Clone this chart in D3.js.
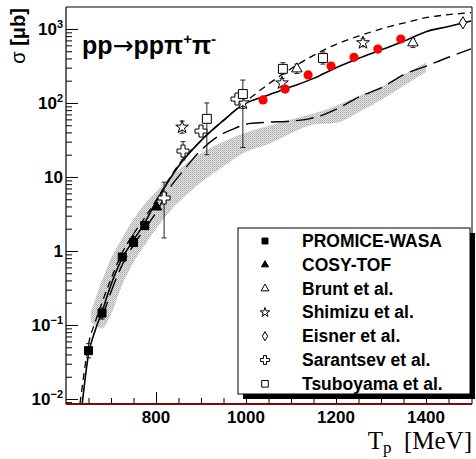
<!doctype html>
<html>
<head>
<meta charset="utf-8">
<title>pp to pp pi+ pi- cross section</title>
<style>
  body { margin: 0; background: #fff; }
  text { font-family: "Liberation Sans", Arial, Helvetica, sans-serif; }
</style>
</head>
<body>
<div id="chart"></div>
<script src="https://cdn.jsdelivr.net/npm/d3@7/dist/d3.min.js"></script>
<script>
// values (T_p in MeV, sigma in microbarn)
var promiceT = [650, 680, 725, 750, 775];
var promiceV = [0.045, 0.145, 0.83, 1.3, 2.2];
var promiceLo = [0.036, 0.12, 0.74, 1.18, 1.95];
var promiceHi = [0.056, 0.17, 0.92, 1.42, 2.45];

var cosyT = [749, 802];
var cosyV = [1.41, 3.9];

var bruntT = [1113, 1371];
var bruntV = [289, 650];
var bruntLo = [250, 560];
var bruntHi = [335, 745];

var shimizuT = [858, 993, 1080, 1260];
var shimizuV = [47, 100, 186, 650];
var shimizuLo = [39, 84, 160, 575];
var shimizuHi = [57, 118, 215, 735];

var eisnerT = [1482];
var eisnerV = [1210];

var sarantsevT = [818, 860, 900, 980];
var sarantsevV = [5.2, 22.4, 41.7, 113];
var sarantsevLo = [1.5, 17, 36, 100];
var sarantsevHi = [8.5, 30, 48, 127];

var tsuboyamaT = [913, 993, 1082, 1171];
var tsuboyamaV = [61, 132, 289, 405];
var tsuboyamaLo = [20, 25, 245, 335];
var tsuboyamaHi = [100, 204, 350, 490];

var redT = [1038, 1087, 1138, 1189, 1240, 1293, 1344];
var redV = [110, 154, 239, 316, 414, 535, 732];

// model curves
var solidT = [636, 640, 650, 665, 680, 700, 725, 750, 775, 800, 850, 900, 950, 990, 1050, 1100, 1150, 1200, 1250, 1300, 1350, 1400, 1450, 1500];
var solidV = [0.0086, 0.014, 0.04, 0.085, 0.15, 0.35, 0.8, 1.4, 2.4, 4.6, 14, 31, 58, 92, 128, 165, 215, 300, 400, 520, 680, 920, 1080, 1280];

var dashT = [631, 640, 650, 665, 680, 700, 725, 750, 775, 800, 850, 900, 950, 1000, 1050, 1100, 1150, 1200, 1250, 1300, 1350, 1400, 1450, 1500];
var dashV = [0.0086, 0.022, 0.055, 0.11, 0.2, 0.42, 0.95, 1.7, 2.8, 4.8, 14.5, 31, 58, 105, 180, 290, 440, 620, 800, 1000, 1200, 1420, 1560, 1660];

var longT = [680, 700, 725, 750, 775, 800, 830, 860, 900, 940, 970, 1010, 1050, 1100, 1140, 1165, 1210, 1250, 1300, 1350, 1400, 1450, 1500];
var longV = [0.12, 0.28, 0.65, 1.2, 2.0, 3.3, 7.0, 12, 23, 36, 44, 53, 55, 57, 61, 67, 88, 120, 160, 240, 315, 415, 537];

var bandT = [655, 680, 700, 725, 750, 775, 800, 830, 860, 900, 950, 1000, 1050, 1100, 1150, 1200, 1250, 1300, 1350, 1400];
var bandHi = [0.15, 0.4, 0.8, 1.5, 2.7, 4.3, 6.3, 9.8, 14, 21, 30, 40, 49, 60, 72, 92, 124, 165, 240, 355];
var bandLo = [0.11, 0.09, 0.14, 0.35, 0.7, 1.2, 2.0, 3.4, 5.2, 8.5, 14, 22, 28, 39, 51, 54, 75, 110, 170, 265];

var yMajor = [0.01, 0.1, 1, 10, 100, 1000];
var yLabels = [["10", "-2"], ["10", "-1"], ["1", ""], ["10", ""], ["10", "2"], ["10", "3"]];
var xMajor = [800, 1000, 1200, 1400];
var xLabels = ["800", "1000", "1200", "1400"];

var legendNames = ["PROMICE-WASA", "COSY-TOF", "Brunt et al.", "Shimizu et al.", "Eisner et al.", "Sarantsev et al.", "Tsuboyama et al."];


function drawChart() {
    var w = 476, h = 459;
    var left = 66, right = 472, top = 7, bottom = 404;

    var svg = d3.select("#chart")
        .append("svg")
        .attr("width", w)
        .attr("height", h);

    var x = d3.scaleLinear().domain([600, 1500]).range([66, 471]);
    var y = d3.scaleLog().domain([0.00856, 1980]).range([bottom, top]);

    var defs = svg.append("defs");
    defs.append("clipPath").attr("id", "plotclip")
        .append("rect")
        .attr("x", left).attr("y", top)
        .attr("width", right - left).attr("height", bottom - top);

    // halftone grey for the band
    var pat = defs.append("pattern")
        .attr("id", "dots")
        .attr("width", 2).attr("height", 2)
        .attr("patternUnits", "userSpaceOnUse");
    pat.append("rect").attr("width", 2).attr("height", 2).attr("fill", "#e6e6e6");
    pat.append("rect").attr("width", 1).attr("height", 1).attr("fill", "#a8a8a8");
    pat.append("rect").attr("x", 1).attr("y", 1).attr("width", 1).attr("height", 1).attr("fill", "#bdbdbd");

    var plot = svg.append("g").attr("clip-path", "url(#plotclip)");

    var band = d3.area()
        .x(function(d, i) { return x(bandT[i]); })
        .y0(function(d, i) { return y(bandLo[i]); })
        .y1(function(d, i) { return y(bandHi[i]); })
        .curve(d3.curveMonotoneX);
    plot.append("path")
        .attr("d", band(bandT))
        .attr("fill", "url(#dots)");

    function curve(ts, vs, dash, width) {
        var line = d3.line()
            .x(function(d, i) { return x(ts[i]); })
            .y(function(d, i) { return y(vs[i]); })
            .curve(d3.curveMonotoneX);
        plot.append("path")
            .attr("d", line(ts))
            .attr("fill", "none")
            .attr("stroke", "#000")
            .attr("stroke-width", width)
            .attr("stroke-dasharray", dash);
    }
    curve(longT, longV, "18,7", 1.4);
    curve(solidT, solidV, null, 1.6);
    curve(dashT, dashV, "7,5", 1.3);

    // error bars
    function errors(ts, lo, hi) {
        for (let i = 0; i < ts.length; i++) {
            let cx = x(ts[i]);
            plot.append("line")
                .attr("x1", cx).attr("x2", cx)
                .attr("y1", y(lo[i])).attr("y2", y(hi[i]))
                .attr("stroke", "#222").attr("stroke-width", 1);
            [lo[i], hi[i]].forEach(function(v) {
                plot.append("line")
                    .attr("x1", cx - 2.5).attr("x2", cx + 2.5)
                    .attr("y1", y(v)).attr("y2", y(v))
                    .attr("stroke", "#222").attr("stroke-width", 1);
            });
        }
    }
    errors(promiceT, promiceLo, promiceHi);
    errors(sarantsevT, sarantsevLo, sarantsevHi);
    errors(tsuboyamaT, tsuboyamaLo, tsuboyamaHi);
    errors(shimizuT, shimizuLo, shimizuHi);
    errors(bruntT, bruntLo, bruntHi);

    var styles = [
        { t: promiceT, v: promiceV, type: d3.symbolSquare, size: 64, fill: "#000" },
        { t: cosyT, v: cosyV, type: d3.symbolTriangle, size: 40, fill: "#000" },
        { t: bruntT, v: bruntV, type: d3.symbolTriangle, size: 48, fill: "#fff" },
        { t: shimizuT, v: shimizuV, type: d3.symbolStar, size: 50, fill: "#fff" },
        { t: eisnerT, v: eisnerV, type: d3.symbolDiamond, size: 44, fill: "#fff" },
        { t: sarantsevT, v: sarantsevV, type: d3.symbolCross, size: 80, fill: "#fff" },
        { t: tsuboyamaT, v: tsuboyamaV, type: d3.symbolSquare, size: 80, fill: "#fff" }
    ];

    styles.forEach(function(s) {
        let sym = d3.symbol().type(s.type).size(s.size);
        for (let i = 0; i < s.t.length; i++) {
            plot.append("path")
                .attr("d", sym())
                .attr("transform", "translate(" + x(s.t[i]) + "," + y(s.v[i]) + ")")
                .attr("fill", s.fill)
                .attr("stroke", "#000")
                .attr("stroke-width", 1);
        }
    });

    plot.selectAll(".red")
        .data(redT)
        .enter()
        .append("circle")
        .attr("cx", function(d) { return x(d); })
        .attr("cy", function(d, i) { return y(redV[i]); })
        .attr("r", 4.6)
        .attr("fill", "#ff0000");

    // frame and axes
    svg.append("line").attr("x1", left).attr("x2", right).attr("y1", top).attr("y2", top)
        .attr("stroke", "#000").attr("stroke-width", 1);
    svg.append("line").attr("x1", right).attr("x2", right).attr("y1", top).attr("y2", bottom)
        .attr("stroke", "#000").attr("stroke-width", 1);
    svg.append("line").attr("x1", left).attr("x2", left).attr("y1", top).attr("y2", bottom)
        .attr("stroke", "#000").attr("stroke-width", 1.2);

    var yMinor = [];
    for (let k = -3; k <= 3; k++) {
        for (let m = 2; m <= 9; m++) {
            let v = m * Math.pow(10, k);
            if (v > 0.00856 && v < 1980) yMinor.push(v);
        }
    }
    yMinor.push(0.009);

    svg.append("g").attr("transform", "translate(" + left + ",0)")
        .call(d3.axisRight(y).tickValues(yMinor).tickSize(6).tickFormat(""))
        .call(function(g) { g.select(".domain").remove(); });
    svg.append("g").attr("transform", "translate(" + left + ",0)")
        .call(d3.axisRight(y).tickValues(yMajor).tickSize(12).tickFormat(""))
        .call(function(g) { g.select(".domain").remove(); });

    var xMinor = d3.range(650, 1500, 50);
    svg.append("g").attr("transform", "translate(0," + bottom + ")")
        .call(d3.axisTop(x).tickValues(xMinor).tickSize(6).tickFormat(""))
        .call(function(g) { g.select(".domain").remove(); });
    svg.append("g").attr("transform", "translate(0," + bottom + ")")
        .call(d3.axisTop(x).tickValues(xMajor).tickSize(12).tickFormat(""))
        .call(function(g) { g.select(".domain").remove(); });
    svg.selectAll(".tick line").attr("stroke", "#000");

    svg.append("line").attr("x1", left).attr("x2", right).attr("y1", bottom).attr("y2", bottom)
        .attr("stroke", "#7a0a0a").attr("stroke-width", 2);

    // y labels
    yMajor.forEach(function(v, i) {
        let t = svg.append("text")
            .attr("x", 63)
            .attr("y", y(v) + 6)
            .attr("text-anchor", "end")
            .attr("font-size", 17)
            .attr("font-weight", "bold");
        t.append("tspan").text(yLabels[i][0]);
        if (yLabels[i][1] !== "") {
            t.append("tspan")
                .attr("font-size", 11)
                .attr("dy", -7)
                .text(yLabels[i][1].replace("-", "\u2212"));
        }
    });

    xMajor.forEach(function(v, i) {
        svg.append("text")
            .attr("x", x(v))
            .attr("y", 423)
            .attr("text-anchor", "middle")
            .attr("font-size", 17)
            .attr("font-weight", "bold")
            .text(xLabels[i]);
    });

    // axis titles
    var yt = svg.append("text")
        .attr("transform", "translate(25,8) rotate(-90)")
        .attr("text-anchor", "end")
        .attr("font-size", 20)
        .attr("font-weight", "bold");
    yt.append("tspan").attr("font-weight", "normal").text("\u03c3");
    yt.append("tspan").text(" [\u03bcb]");

    var xt = svg.append("text")
        .attr("x", 472)
        .attr("y", 449)
        .attr("text-anchor", "end")
        .attr("font-size", 25)
        .style("font-family", "'Liberation Serif', 'Times New Roman', serif");
    xt.append("tspan").text("T");
    xt.append("tspan").attr("font-size", 17).attr("dy", 4).text("p");
    xt.append("tspan").attr("dy", -4).text("\u00a0\u00a0[MeV]");

    // reaction label
    var title = svg.append("text")
        .attr("x", 82)
        .attr("y", 54)
        .attr("font-size", 25)
        .attr("font-weight", "bold");
    title.append("tspan").text("pp");
    title.append("tspan").style("font-family", "'DejaVu Sans', sans-serif").attr("font-weight", "normal").text("\u2192");
    title.append("tspan").text("pp\u03c0");
    title.append("tspan").attr("font-size", 15).attr("dy", -10).text("+");
    title.append("tspan").attr("dy", 10).text("\u03c0");
    title.append("tspan").attr("font-size", 15).attr("dy", -10).text("-");

    // legend
    var lx = 238, ly = 228, lw = 232, lh = 166;
    svg.append("rect")
        .attr("x", lx + 5).attr("y", ly + 5)
        .attr("width", lw).attr("height", lh)
        .attr("fill", "#000");
    svg.append("rect")
        .attr("x", lx).attr("y", ly)
        .attr("width", lw).attr("height", lh)
        .attr("fill", "#fff")
        .attr("stroke", "#000")
        .attr("stroke-width", 1);

    styles.forEach(function(s, i) {
        let ry = 241 + i * 23.8;
        svg.append("path")
            .attr("d", d3.symbol().type(s.type).size(s.size * 0.55)())
            .attr("transform", "translate(265," + ry + ")")
            .attr("fill", s.fill)
            .attr("stroke", "#000")
            .attr("stroke-width", 1);
        svg.append("text")
            .attr("x", 302)
            .attr("y", ry + 6)
            .attr("font-size", 17.5)
            .attr("font-weight", "bold")
            .text(legendNames[i]);
    });
}

drawChart();
</script>
</body>
</html>
